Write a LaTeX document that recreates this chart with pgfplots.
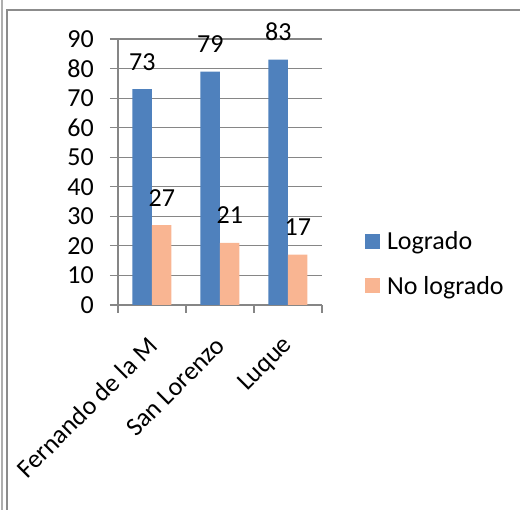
\documentclass[border=0pt]{standalone}
\usepackage{fontspec}
\setmainfont{Carlito}
\usepackage{pgfplots}
\pgfplotsset{compat=1.18}
\definecolor{logrado}{RGB}{79,129,189}
\definecolor{nologrado}{RGB}{249,181,146}
\definecolor{gridgray}{RGB}{134,134,134}
\definecolor{framegray}{RGB}{140,140,140}

\begin{document}
\begin{tikzpicture}
\useasboundingbox (0,0) rectangle (520pt,510pt);
% frame of the page
\draw[framegray!70,line width=2.5pt] (2pt,0) -- (2pt,510pt);
\draw[framegray,line width=1.6pt] (7pt,0) -- (7pt,500pt) -- (520pt,500pt);

\begin{axis}[
  at={(118pt,205pt)}, anchor=south west,
  scale only axis, width=204pt, height=266pt,
  ybar=0pt, bar width=19.5pt,
  xmin=-0.5, xmax=2.5, ymin=0, ymax=90,
  ytick={0,10,...,90},
  xtick={0,1,2},
  xticklabels={Fernando de la M, San Lorenzo, Luque},
  minor xtick={-0.5,0.5,1.5,2.5},
  major x tick style={draw=none},
  tick align=outside,
  major tick length=8pt, minor tick length=8pt,
  axis x line*=bottom, axis y line*=left,
  axis line style={gridgray, line width=1.2pt},
  every tick/.style={gridgray, line width=1.2pt},
  ymajorgrids, grid style={gridgray, line width=1.2pt},
  /pgf/number format/assume math mode=true,
  tick label style={font=\fontsize{26}{30}\selectfont, black},
  yticklabel style={inner sep=1pt, xshift=-15pt},
  xticklabel style={xshift=3pt, yshift=-26pt, rotate=45, anchor=east},
  nodes near coords,
  every node near coord/.append style={font=\fontsize{26}{30}\selectfont, black, anchor=base, yshift=19pt},
  legend style={at={(1.21,0.156)}, anchor=west, draw=none, fill=none,
    font=\fontsize{26}{30}\selectfont, inner sep=0pt, row sep=21pt,
    legend cell align=left,
    /tikz/every odd column/.append style={column sep=5pt}},
  legend image code/.code={\fill[#1] (0pt,-7.5pt) rectangle (15pt,7.5pt);},
]
\addplot[fill=logrado, draw=none] coordinates {(0,73) (1,79) (2,83)};
\addlegendentry{Logrado}
\addplot[fill=nologrado, draw=none] coordinates {(0,27) (1,21) (2,17)};
\addlegendentry{No logrado}
\end{axis}
\end{tikzpicture}
\end{document}
